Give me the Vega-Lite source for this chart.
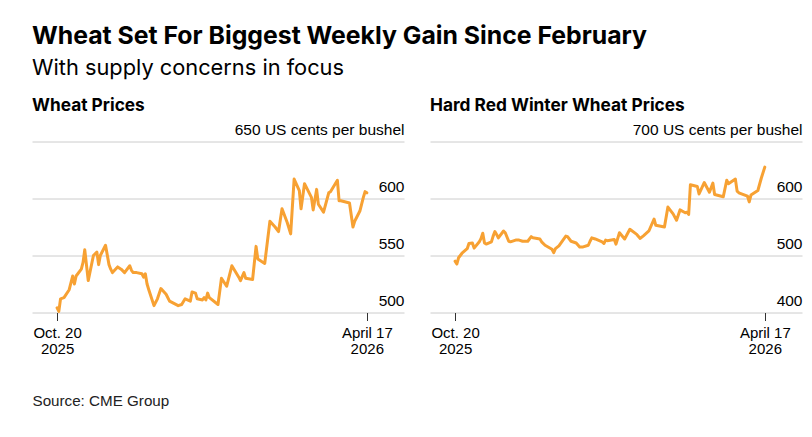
{
  "$schema": "https://vega.github.io/schema/vega-lite/v6.json",
  "padding": {"left": 32, "top": 23.5, "right": 5, "bottom": 5},
  "background": "white",
  "config": {
    "font": "Liberation Sans",
    "view": {"stroke": null},
    "concat": {"spacing": 26}
  },
  "title": {
    "text": "Wheat Set For Biggest Weekly Gain Since February",
    "subtitle": "With supply concerns in focus",
    "anchor": "start",
    "font": "Inter",
    "subtitleFont": "Inter",
    "fontSize": 24.8,
    "fontWeight": "bold",
    "color": "#000000",
    "subtitleFontSize": 21.8,
    "subtitleColor": "#000000",
    "subtitlePadding": 10,
    "offset": 17
  },
  "datasets": {
    "wheat": [
      {"date": "2025-10-20", "price": 504},
      {"date": "2025-10-21", "price": 501},
      {"date": "2025-10-22", "price": 512},
      {"date": "2025-10-24", "price": 513},
      {"date": "2025-10-27", "price": 520},
      {"date": "2025-10-29", "price": 532},
      {"date": "2025-10-30", "price": 525},
      {"date": "2025-10-31", "price": 532},
      {"date": "2025-11-03", "price": 538},
      {"date": "2025-11-04", "price": 544},
      {"date": "2025-11-05", "price": 555},
      {"date": "2025-11-07", "price": 528},
      {"date": "2025-11-10", "price": 550},
      {"date": "2025-11-12", "price": 553},
      {"date": "2025-11-13", "price": 542},
      {"date": "2025-11-14", "price": 550},
      {"date": "2025-11-17", "price": 559},
      {"date": "2025-11-19", "price": 542},
      {"date": "2025-11-20", "price": 538},
      {"date": "2025-11-21", "price": 535},
      {"date": "2025-11-24", "price": 540},
      {"date": "2025-11-26", "price": 538},
      {"date": "2025-11-28", "price": 535},
      {"date": "2025-12-01", "price": 541},
      {"date": "2025-12-02", "price": 537},
      {"date": "2025-12-03", "price": 535},
      {"date": "2025-12-05", "price": 535},
      {"date": "2025-12-08", "price": 534},
      {"date": "2025-12-09", "price": 531},
      {"date": "2025-12-10", "price": 534},
      {"date": "2025-12-11", "price": 525},
      {"date": "2025-12-12", "price": 520},
      {"date": "2025-12-15", "price": 506},
      {"date": "2025-12-17", "price": 512},
      {"date": "2025-12-19", "price": 521},
      {"date": "2025-12-22", "price": 516},
      {"date": "2025-12-24", "price": 510},
      {"date": "2025-12-29", "price": 506},
      {"date": "2025-12-31", "price": 507},
      {"date": "2026-01-02", "price": 512},
      {"date": "2026-01-05", "price": 510},
      {"date": "2026-01-06", "price": 518},
      {"date": "2026-01-08", "price": 517},
      {"date": "2026-01-09", "price": 512},
      {"date": "2026-01-12", "price": 511},
      {"date": "2026-01-13", "price": 513},
      {"date": "2026-01-14", "price": 511},
      {"date": "2026-01-15", "price": 517},
      {"date": "2026-01-16", "price": 513},
      {"date": "2026-01-21", "price": 507},
      {"date": "2026-01-23", "price": 530},
      {"date": "2026-01-26", "price": 523},
      {"date": "2026-01-29", "price": 541},
      {"date": "2026-02-02", "price": 531},
      {"date": "2026-02-03", "price": 528},
      {"date": "2026-02-05", "price": 535},
      {"date": "2026-02-06", "price": 530},
      {"date": "2026-02-10", "price": 529},
      {"date": "2026-02-12", "price": 558},
      {"date": "2026-02-13", "price": 547},
      {"date": "2026-02-17", "price": 543},
      {"date": "2026-02-20", "price": 580},
      {"date": "2026-02-23", "price": 575},
      {"date": "2026-02-25", "price": 571},
      {"date": "2026-02-27", "price": 591},
      {"date": "2026-03-02", "price": 579},
      {"date": "2026-03-04", "price": 569},
      {"date": "2026-03-06", "price": 617},
      {"date": "2026-03-09", "price": 607},
      {"date": "2026-03-10", "price": 591},
      {"date": "2026-03-12", "price": 613},
      {"date": "2026-03-16", "price": 601},
      {"date": "2026-03-17", "price": 590},
      {"date": "2026-03-19", "price": 608},
      {"date": "2026-03-20", "price": 595},
      {"date": "2026-03-23", "price": 588},
      {"date": "2026-03-26", "price": 605},
      {"date": "2026-03-27", "price": 606},
      {"date": "2026-03-31", "price": 616},
      {"date": "2026-04-01", "price": 598},
      {"date": "2026-04-02", "price": 598},
      {"date": "2026-04-07", "price": 596},
      {"date": "2026-04-09", "price": 575},
      {"date": "2026-04-10", "price": 580},
      {"date": "2026-04-13", "price": 589},
      {"date": "2026-04-15", "price": 601},
      {"date": "2026-04-16", "price": 606},
      {"date": "2026-04-17", "price": 605}
    ],
    "hrw": [
      {"date": "2025-10-20", "price": 490},
      {"date": "2025-10-21", "price": 485},
      {"date": "2025-10-22", "price": 496},
      {"date": "2025-10-24", "price": 504},
      {"date": "2025-10-27", "price": 512},
      {"date": "2025-10-28", "price": 521},
      {"date": "2025-10-30", "price": 522},
      {"date": "2025-10-31", "price": 513},
      {"date": "2025-11-03", "price": 524},
      {"date": "2025-11-04", "price": 530},
      {"date": "2025-11-05", "price": 539},
      {"date": "2025-11-06", "price": 522},
      {"date": "2025-11-07", "price": 520},
      {"date": "2025-11-10", "price": 524},
      {"date": "2025-11-11", "price": 534},
      {"date": "2025-11-12", "price": 542},
      {"date": "2025-11-13", "price": 537},
      {"date": "2025-11-14", "price": 531},
      {"date": "2025-11-17", "price": 543},
      {"date": "2025-11-18", "price": 540},
      {"date": "2025-11-20", "price": 525},
      {"date": "2025-11-21", "price": 524},
      {"date": "2025-11-24", "price": 527},
      {"date": "2025-11-26", "price": 527},
      {"date": "2025-11-28", "price": 525},
      {"date": "2025-12-01", "price": 525},
      {"date": "2025-12-03", "price": 533},
      {"date": "2025-12-04", "price": 531},
      {"date": "2025-12-08", "price": 529},
      {"date": "2025-12-09", "price": 524},
      {"date": "2025-12-11", "price": 518},
      {"date": "2025-12-15", "price": 511},
      {"date": "2025-12-16", "price": 505},
      {"date": "2025-12-17", "price": 512},
      {"date": "2025-12-19", "price": 517},
      {"date": "2025-12-23", "price": 534},
      {"date": "2025-12-24", "price": 533},
      {"date": "2025-12-26", "price": 525},
      {"date": "2025-12-29", "price": 522},
      {"date": "2025-12-31", "price": 515},
      {"date": "2026-01-02", "price": 515},
      {"date": "2026-01-05", "price": 518},
      {"date": "2026-01-06", "price": 525},
      {"date": "2026-01-07", "price": 531},
      {"date": "2026-01-09", "price": 529},
      {"date": "2026-01-13", "price": 524},
      {"date": "2026-01-14", "price": 521},
      {"date": "2026-01-15", "price": 527},
      {"date": "2026-01-16", "price": 526},
      {"date": "2026-01-20", "price": 528},
      {"date": "2026-01-21", "price": 520},
      {"date": "2026-01-23", "price": 540},
      {"date": "2026-01-26", "price": 529},
      {"date": "2026-01-29", "price": 546},
      {"date": "2026-02-02", "price": 537},
      {"date": "2026-02-04", "price": 530},
      {"date": "2026-02-06", "price": 535},
      {"date": "2026-02-09", "price": 543},
      {"date": "2026-02-12", "price": 564},
      {"date": "2026-02-13", "price": 553},
      {"date": "2026-02-18", "price": 550},
      {"date": "2026-02-20", "price": 585},
      {"date": "2026-02-23", "price": 573},
      {"date": "2026-02-25", "price": 562},
      {"date": "2026-02-27", "price": 580},
      {"date": "2026-03-02", "price": 575},
      {"date": "2026-03-03", "price": 576},
      {"date": "2026-03-04", "price": 572},
      {"date": "2026-03-05", "price": 624},
      {"date": "2026-03-09", "price": 621},
      {"date": "2026-03-10", "price": 608},
      {"date": "2026-03-13", "price": 628},
      {"date": "2026-03-16", "price": 611},
      {"date": "2026-03-18", "price": 627},
      {"date": "2026-03-19", "price": 607},
      {"date": "2026-03-24", "price": 603},
      {"date": "2026-03-26", "price": 632},
      {"date": "2026-03-27", "price": 626},
      {"date": "2026-03-31", "price": 634},
      {"date": "2026-04-01", "price": 613},
      {"date": "2026-04-02", "price": 610},
      {"date": "2026-04-07", "price": 604},
      {"date": "2026-04-08", "price": 594},
      {"date": "2026-04-09", "price": 606},
      {"date": "2026-04-13", "price": 614},
      {"date": "2026-04-15", "price": 636},
      {"date": "2026-04-17", "price": 655}
    ]
  },
  "hconcat": [
    {
      "width": 372,
      "height": 171,
      "data": {"name": "wheat"},
      "title": {"text": "Wheat Prices", "anchor": "start", "font": "Inter", "fontSize": 17.3, "fontWeight": "bold", "color": "#000000", "offset": 8},
      "mark": {"type": "line", "color": "#F7A133", "strokeWidth": 3, "strokeJoin": "round", "strokeCap": "round"},
      "encoding": {
        "x": {
          "field": "date", "type": "temporal",
          "scale": {"type": "utc", "domain": [{"year": 2025, "month": 10, "date": 5, "hours": 12, "utc": true}, {"year": 2026, "month": 5, "date": 8, "hours": 12, "utc": true}]},
          "axis": {
            "values": [{"year": 2025, "month": 10, "date": 20, "utc": true}, {"year": 2026, "month": 4, "date": 17, "utc": true}],
            "labelExpr": "datum.value < 1770000000000 ? ['Oct. 20', '2025'] : ['April 17', '2026']",
            "grid": false, "domain": false, "ticks": true, "tickSize": 8, "tickColor": "#333333", "tickWidth": 1,
            "labelPadding": 4.5, "labelFontSize": 15, "labelColor": "#000000", "labelLineHeight": 16.5, "labelFlush": false, "labelOverlap": false,
            "title": "Source: CME Group", "titleX": 0, "titleY": 92.5, "titleAlign": "left", "titleAnchor": null, "titleBaseline": "alphabetic",
            "titleFontSize": 15.2, "titleFontWeight": "normal", "titleColor": "#222222"
          }
        },
        "y": {
          "field": "price", "type": "quantitative",
          "scale": {"domain": [500, 650], "nice": false, "zero": false},
          "axis": {
            "orient": "right", "values": [500, 550, 600, 650], "grid": true, "gridColor": "#cccccc", "gridWidth": 1,
            "domain": false, "ticks": false, "tickSize": 0, "labelAlign": "right", "labelBaseline": "alphabetic", "labelPadding": 0,
            "labelOffset": -7, "labelFontSize": 15.5, "labelColor": "#000000", "labelFlush": false, "labelOverlap": false, "title": null,
            "labelExpr": "datum.value == 650 ? '650 US cents per bushel' : datum.label"
          }
        }
      }
    },
    {
      "width": 372,
      "height": 171,
      "data": {"name": "hrw"},
      "title": {"text": "Hard Red Winter Wheat Prices", "anchor": "start", "font": "Inter", "fontSize": 17.3, "fontWeight": "bold", "color": "#000000", "offset": 8},
      "mark": {"type": "line", "color": "#F7A133", "strokeWidth": 3, "strokeJoin": "round", "strokeCap": "round"},
      "encoding": {
        "x": {
          "field": "date", "type": "temporal",
          "scale": {"type": "utc", "domain": [{"year": 2025, "month": 10, "date": 5, "hours": 12, "utc": true}, {"year": 2026, "month": 5, "date": 8, "hours": 12, "utc": true}]},
          "axis": {
            "values": [{"year": 2025, "month": 10, "date": 20, "utc": true}, {"year": 2026, "month": 4, "date": 17, "utc": true}],
            "labelExpr": "datum.value < 1770000000000 ? ['Oct. 20', '2025'] : ['April 17', '2026']",
            "grid": false, "domain": false, "ticks": true, "tickSize": 8, "tickColor": "#333333", "tickWidth": 1,
            "labelPadding": 4.5, "labelFontSize": 15, "labelColor": "#000000", "labelLineHeight": 16.5, "labelFlush": false, "labelOverlap": false,
            "title": null
          }
        },
        "y": {
          "field": "price", "type": "quantitative",
          "scale": {"domain": [400, 700], "nice": false, "zero": false},
          "axis": {
            "orient": "right", "values": [400, 500, 600, 700], "grid": true, "gridColor": "#cccccc", "gridWidth": 1,
            "domain": false, "ticks": false, "tickSize": 0, "labelAlign": "right", "labelBaseline": "alphabetic", "labelPadding": 0,
            "labelOffset": -7, "labelFontSize": 15.5, "labelColor": "#000000", "labelFlush": false, "labelOverlap": false, "title": null,
            "labelExpr": "datum.value == 700 ? '700 US cents per bushel' : datum.label"
          }
        }
      }
    }
  ]
}
